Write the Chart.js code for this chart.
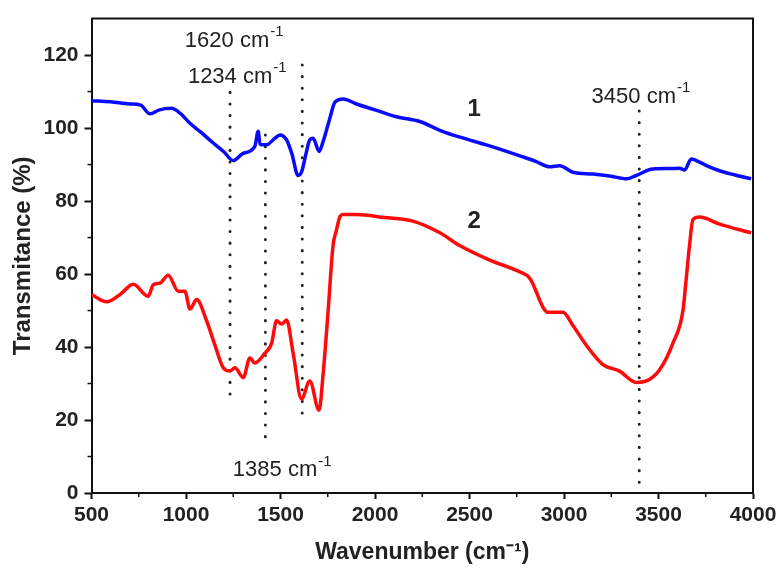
<!DOCTYPE html>
<html>
<head>
<meta charset="utf-8">
<script src="https://cdn.jsdelivr.net/npm/chart.js@4.4.0/dist/chart.umd.min.js"></script>
<style>
    html, body { margin: 0; padding: 0; background: #fff; }
</style>
</head>
<body>
<canvas id="graficaIR" width="784" height="578"></canvas>
<script>
// Espectro 1 (azul)
const onda1 = [500, 600, 703, 760, 809, 860, 924, 970, 1021, 1080, 1144, 1200, 1250, 1300, 1364, 1382, 1392, 1426, 1470, 1497, 1532, 1560, 1593, 1611, 1635, 1655, 1673, 1704, 1726, 1760, 1788, 1831, 1902, 2000, 2114, 2237, 2343, 2450, 2589, 2680, 2766, 2850, 2924, 2977, 3047, 3153, 3250, 3330, 3382, 3470, 3560, 3611, 3638, 3673, 3700, 3760, 3823, 3900, 3990];
const trans1 = [107.5, 107.2, 106.6, 106.3, 103.9, 105.0, 105.4, 104.0, 101.3, 98.8, 95.9, 93.5, 91.1, 93.0, 95.0, 99.1, 95.5, 95.4, 97.2, 98.1, 96.8, 93.0, 87.0, 87.9, 93.0, 96.8, 97.2, 93.6, 96.4, 102.5, 107.1, 108.0, 106.6, 105.0, 103.1, 101.8, 99.4, 97.5, 95.4, 93.9, 92.4, 90.9, 89.4, 89.7, 87.9, 87.4, 86.8, 86.1, 87.0, 88.8, 88.9, 89.0, 88.5, 91.5, 91.1, 89.6, 88.3, 87.2, 86.1];

// Espectro 2 (rojo)
const onda2 = [500, 580, 651, 721, 800, 827, 862, 906, 959, 994, 1021, 1056, 1109, 1150, 1197, 1232, 1259, 1303, 1338, 1364, 1417, 1453, 1479, 1506, 1532, 1567, 1611, 1655, 1704, 1726, 1752, 1778, 1796, 1815, 1831, 1902, 2050, 2200, 2343, 2448, 2607, 2766, 2818, 2915, 2994, 3047, 3118, 3206, 3294, 3382, 3435, 3506, 3576, 3629, 3647, 3664, 3682, 3717, 3823, 3990];
const trans2 = [54.4, 52.4, 54.4, 57.2, 53.9, 57.1, 57.5, 59.7, 55.3, 55.3, 50.4, 53.0, 47.2, 41.0, 34.3, 33.4, 34.3, 31.6, 37.0, 35.6, 38.3, 41.0, 47.2, 46.3, 47.4, 38.3, 25.8, 30.7, 22.7, 32.9, 49.9, 67.8, 72.0, 75.8, 76.3, 76.3, 75.5, 74.5, 71.3, 67.8, 63.8, 60.6, 58.9, 49.5, 49.5, 45.9, 40.5, 35.2, 33.4, 30.3, 30.7, 33.8, 41.0, 49.9, 58.9, 67.8, 74.9, 75.6, 73.7, 71.3];

// Líneas punteadas de referencia
const lineasOnda = [1233, 1420, 1615, 3398];
const lineasArriba = [109.8, 98.1, 117.3, 104.7];
const lineasAbajo = [24.4, 12.3, 20.1, 0];

// Etiquetas de ejes
const ticksX = [500, 1000, 1500, 2000, 2500, 3000, 3500, 4000];
const ticksY = [0, 20, 40, 60, 80, 100, 120];

const fuente = '"Liberation Sans", Arial, sans-serif';

// Anotaciones (texto, superíndice, posición en unidades de datos)
const anotaciones = [
    { texto: '1620 cm', sup: '-1', x: 994, y: 123.8, bold: false },
    { texto: '1234 cm', sup: '-1', x: 1010, y: 114.1, bold: false },
    { texto: '3450 cm', sup: '-1', x: 3146, y: 108.5, bold: false },
    { texto: '1385 cm', sup: '-1', x: 1248, y: 6.2, bold: false },
    { texto: '1', sup: '', x: 2490, y: 105.2, bold: true },
    { texto: '2', sup: '', x: 2490, y: 74.5, bold: true }
];

const pluginMarco = {
    id: 'marco',
    beforeDatasetsDraw(chart) {
        const ctx = chart.ctx;
        const sx = chart.scales.x, sy = chart.scales.y;
        ctx.save();
        ctx.strokeStyle = '#222';
        ctx.lineWidth = 3;
        ctx.lineCap = 'round';
        ctx.setLineDash([0.1, 11.5]);
        lineasOnda.forEach((w, i) => {
            const px = sx.getPixelForValue(w);
            ctx.beginPath();
            ctx.moveTo(px, sy.getPixelForValue(lineasArriba[i]));
            ctx.lineTo(px, sy.getPixelForValue(lineasAbajo[i]));
            ctx.stroke();
        });
        ctx.restore();
    },
    afterDraw(chart) {
        const ctx = chart.ctx;
        const a = chart.chartArea;
        const sx = chart.scales.x, sy = chart.scales.y;
        ctx.save();
        // borde superior y derecho
        ctx.strokeStyle = '#111';
        ctx.lineWidth = 2;
        ctx.beginPath();
        ctx.moveTo(a.left, a.top);
        ctx.lineTo(a.right, a.top);
        ctx.lineTo(a.right, a.bottom);
        ctx.stroke();
        // marcas menores
        ctx.lineWidth = 1.5;
        for (let w = 750; w < 4000; w += 500) {
            const px = sx.getPixelForValue(w);
            ctx.beginPath();
            ctx.moveTo(px, a.bottom);
            ctx.lineTo(px, a.bottom + 4);
            ctx.stroke();
        }
        for (let v = 10; v < 130; v += 20) {
            const py = sy.getPixelForValue(v);
            ctx.beginPath();
            ctx.moveTo(a.left, py);
            ctx.lineTo(a.left - 4, py);
            ctx.stroke();
        }
        // textos
        ctx.fillStyle = '#222';
        ctx.textAlign = 'left';
        ctx.textBaseline = 'middle';
        anotaciones.forEach(n => {
            const px = sx.getPixelForValue(n.x);
            const py = sy.getPixelForValue(n.y);
            ctx.font = (n.bold ? 'bold 24px ' : '22px ') + fuente;
            ctx.fillText(n.texto, px, py);
            if (n.sup) {
                const ancho = ctx.measureText(n.texto).width;
                ctx.font = '15px ' + fuente;
                ctx.fillText(n.sup, px + ancho + 1, py - 9);
            }
        });
        ctx.restore();
    }
};

const ctxIR = document.getElementById('graficaIR').getContext('2d');
new Chart(ctxIR, {
    type: 'line',
    data: {
        datasets: [
            {
                label: '1',
                data: onda1.map((w, i) => ({ x: w, y: trans1[i] })),
                borderColor: '#0a0aff',
                borderWidth: 3.5,
                pointRadius: 0,
                cubicInterpolationMode: 'monotone'
            },
            {
                label: '2',
                data: onda2.map((w, i) => ({ x: w, y: trans2[i] })),
                borderColor: '#ff0a0a',
                borderWidth: 3.5,
                pointRadius: 0,
                cubicInterpolationMode: 'monotone'
            }
        ]
    },
    options: {
        responsive: false,
        animation: false,
        devicePixelRatio: 1,
        layout: {
            padding: { left: 0, right: 31, top: 9, bottom: 0 }
        },
        plugins: {
            legend: { display: false },
            tooltip: { enabled: false }
        },
        scales: {
            x: {
                type: 'linear',
                min: 500,
                max: 4000,
                afterBuildTicks: s => { s.ticks = ticksX.map(v => ({ value: v })); },
                afterFit: s => { s.height = 85; },
                ticks: {
                    color: '#222',
                    font: { family: fuente, size: 21, weight: 'bold' },
                    padding: 4,
                    maxRotation: 0,
                    autoSkip: false,
                    callback: v => String(v)
                },
                grid: {
                    drawOnChartArea: false,
                    tickLength: 6,
                    tickColor: '#111',
                    tickWidth: 2
                },
                border: { color: '#111', width: 2 },
                title: {
                    display: true,
                    text: 'Wavenumber (cm⁻¹)',
                    color: '#222',
                    font: { family: fuente, size: 23, weight: 'bold' },
                    padding: { top: 0, bottom: 12 }
                }
            },
            y: {
                min: 0,
                max: 130,
                afterBuildTicks: s => { s.ticks = ticksY.map(v => ({ value: v })); },
                afterFit: s => { s.width = 91.5; },
                ticks: {
                    color: '#222',
                    font: { family: fuente, size: 21, weight: 'bold' },
                    padding: 6,
                    callback: v => String(v)
                },
                grid: {
                    drawOnChartArea: false,
                    tickLength: 7,
                    tickColor: '#111',
                    tickWidth: 2
                },
                border: { color: '#111', width: 2 },
                title: {
                    display: true,
                    text: 'Transmitance (%)',
                    color: '#222',
                    font: { family: fuente, size: 24, weight: 'bold' },
                    padding: { top: 9, bottom: 0 }
                }
            }
        }
    },
    plugins: [pluginMarco]
});
</script>
</body>
</html>
